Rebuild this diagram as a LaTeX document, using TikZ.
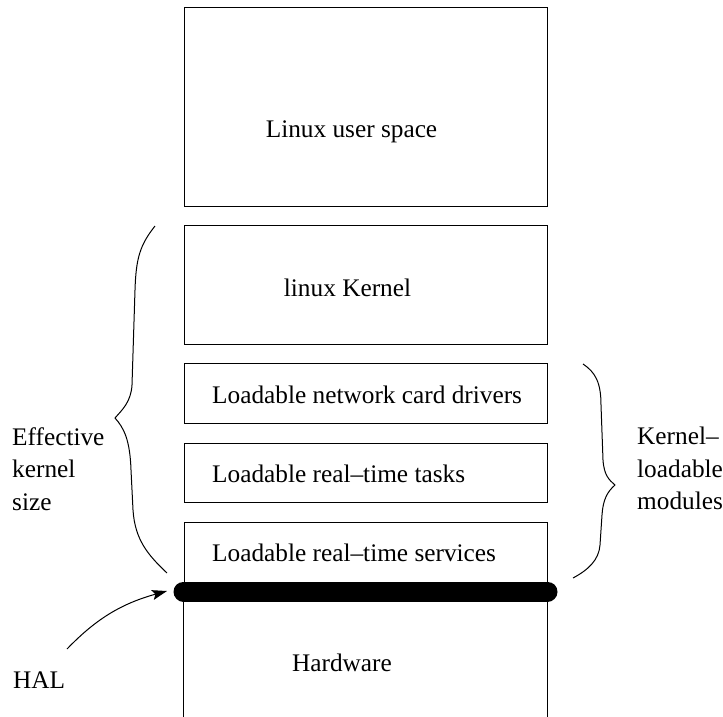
\documentclass[tikz,border=0pt]{standalone}
\usepackage{fontspec}
\setmainfont{Liberation Serif}
\usetikzlibrary{arrows.meta}

\tikzstyle{layer} = [rectangle, draw, line width=1pt, minimum width=363pt, inner sep=0pt]
\tikzstyle{caption} = [inner sep=0pt, font=\fontsize{25.3}{32.5}\selectfont]
\tikzstyle{brace} = [line width=1pt]
\tikzstyle{arrow} = [line width=1pt, -{Stealth[length=15pt, width=10pt, inset=3pt]}]

\begin{document}
\begin{tikzpicture}[x=1pt, y=-1pt]
                \useasboundingbox (0,0) rectangle (723,717);

                \node (user) [layer, minimum height=198pt] at (365.5,107) {};
                \node (kernel) [layer, minimum height=119pt] at (365.5,284.5) {};
                \node (netdrv) [layer, minimum height=60pt] at (365.5,393) {};
                \node (rttasks) [layer, minimum height=59pt] at (365.5,472.5) {};
                \node (rtserv) [layer, minimum height=69pt] at (365.5,556.5) {};

                % hardware, open at the bottom
                \draw [brace] (rtserv.south west) -- ++(0,126);
                \draw [brace] (rtserv.south east) -- ++(0,126);
                % HAL bar
                \draw [line width=20pt, line cap=round] (rtserv.south west) -- (rtserv.south east);

                \node (usertxt) [caption, anchor=base] at (351.5,137) {Linux user space};
                \node (kerneltxt) [caption, anchor=base] at (347.5,296) {linux Kernel};
                \node (netdrvtxt) [caption, anchor=base west] at (212,403) {Loadable network card drivers};
                \node (rttaskstxt) [caption, anchor=base west] at (212,482) {Loadable real--time tasks};
                \node (rtservtxt) [caption, anchor=base west] at (212,561) {Loadable real--time services};
                \node (hwtxt) [caption, anchor=base] at (342,671) {Hardware};
                \node (hal) [caption, anchor=base west] at (13,688) {HAL};
                \node (effsize) [caption, anchor=north west, align=left] at (12,427) {Effective\\kernel\\size};
                \node (klm) [caption, anchor=north west, align=left] at (637,427) {Kernel--\\loadable\\modules};

                \coordinate (lbtop) at (155,226);
                \coordinate (lbtip) at (115,418);
                \coordinate (lbbot) at (167,573);
                \coordinate (rbtop) at (583,364);
                \coordinate (rbtip) at (615,485);
                \coordinate (rbbot) at (573,578);
                \coordinate (halstart) at (67,649);
                \coordinate (halend) at (167,591);

                \draw [brace] (lbtop) .. controls (140,245) and (136,258) .. (135,290) -- (132,385)
                    .. controls (131,402) and (122,410) .. (lbtip)
                    .. controls (124,428) and (130,440) .. (131,470) -- (133,510)
                    .. controls (135,540) and (148,555) .. (lbbot);
                \draw [brace] (rbtop) .. controls (595,372) and (601,382) .. (601,405) -- (603,460)
                    .. controls (604,475) and (609,480) .. (rbtip)
                    .. controls (607,492) and (603,500) .. (602,515) -- (600,545)
                    .. controls (599,560) and (588,570) .. (rbbot);
                \draw [arrow] (halstart) .. controls (95,620) and (120,604) .. (halend);
            \end{tikzpicture}
\end{document}
